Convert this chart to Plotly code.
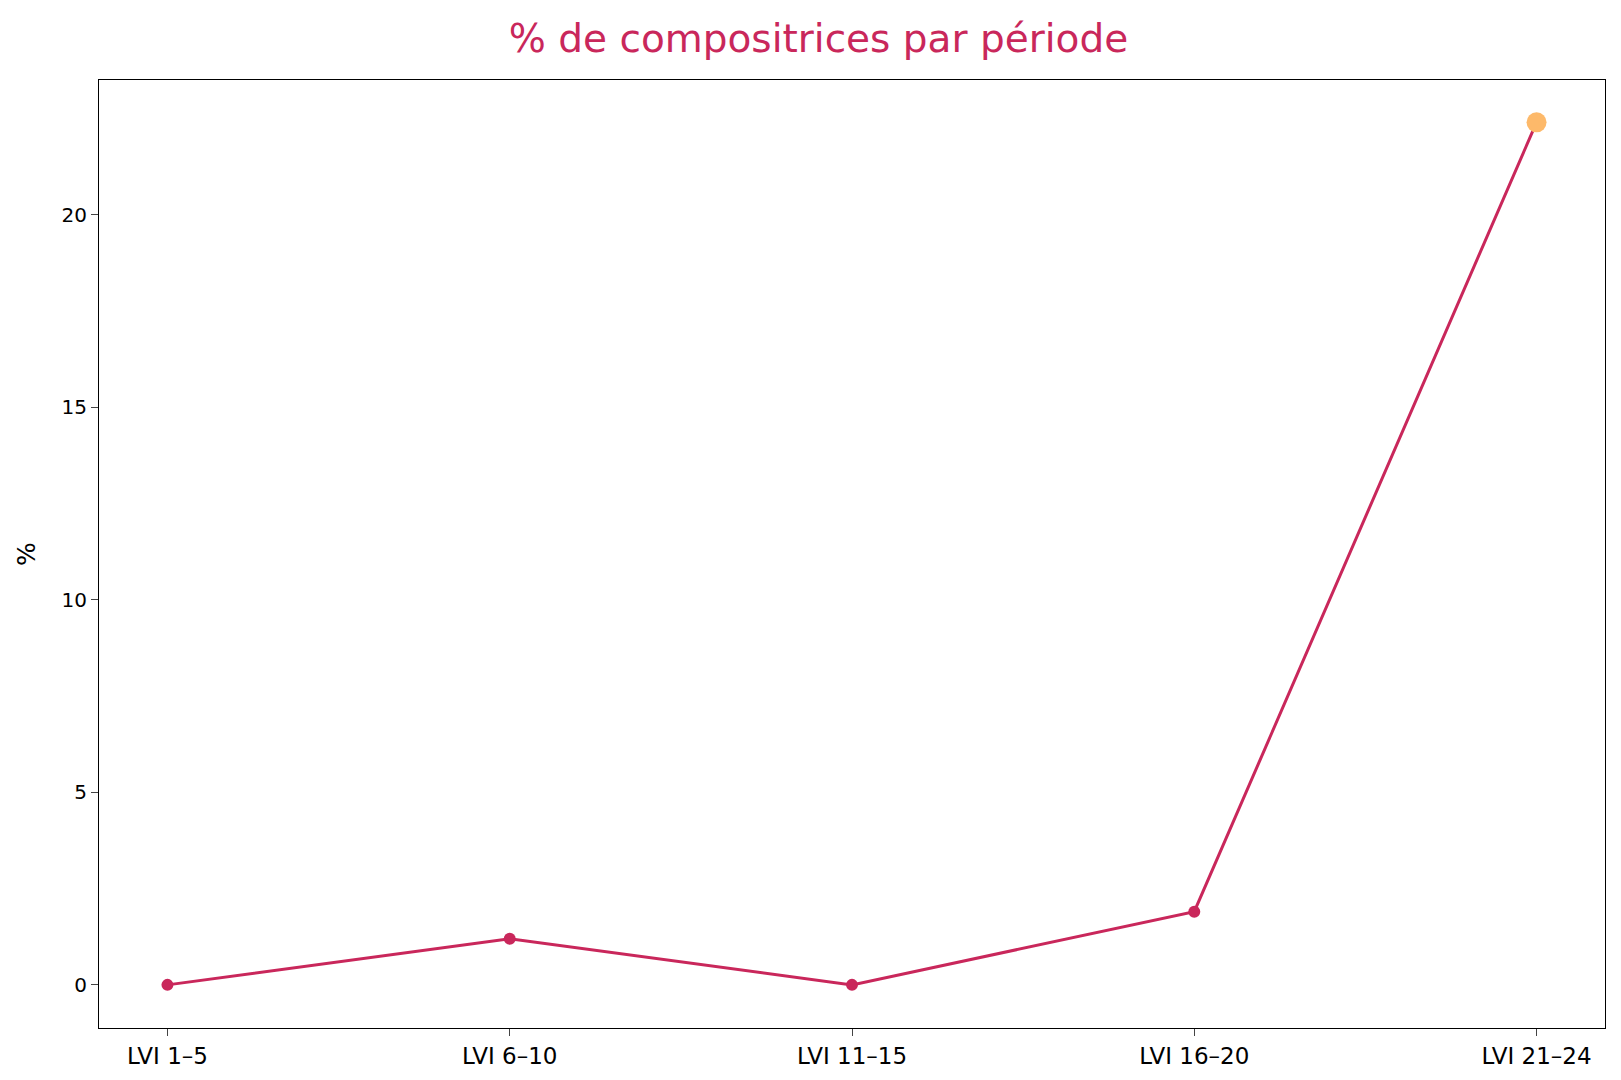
import plotly.graph_objects as go

# Periods and share of women composers (%)
periodes = ['LVI 1–5', 'LVI 6–10', 'LVI 11–15', 'LVI 16–20', 'LVI 21–24']
pourcentages = [0.0, 1.2, 0.0, 1.9, 22.4]

couleur = '#C9275B'
couleur_fin = '#FDB96A'

fig = go.Figure()
fig.add_trace(go.Scatter(
    x=list(range(len(periodes))), y=pourcentages,
    mode='lines+markers',
    line=dict(color=couleur, width=3),
    marker=dict(color=[couleur] * (len(periodes) - 1) + [couleur_fin],
                size=[12] * (len(periodes) - 1) + [20],
                opacity=1, line=dict(width=0)),
    showlegend=False,
))

fig.update_layout(
    width=1621, height=1080,
    paper_bgcolor='white', plot_bgcolor='white',
    margin=dict(l=91, r=24, t=72, b=60),
    font=dict(family='DejaVu Sans', color='black', size=20),
    title=dict(text='% de compositrices par période', x=0.5, xanchor='center',
               y=0.985, yanchor='top', font=dict(size=39, color=couleur)),
)
fig.update_xaxes(
    range=[-0.2, 4.2], tickvals=list(range(len(periodes))), ticktext=periodes,
    showgrid=False, zeroline=False, showline=True, linecolor='black', mirror=True,
    ticks='outside', ticklen=7, tickfont=dict(size=23),
)
fig.update_yaxes(
    range=[-1.12, 23.5], tickvals=[0, 5, 10, 15, 20],
    showgrid=False, zeroline=False, showline=True, linecolor='black', mirror=True,
    ticks='outside', ticklen=7, tickfont=dict(size=20),
    title=dict(text='%', font=dict(size=25), standoff=18),
)

fig.write_html("out.html")
